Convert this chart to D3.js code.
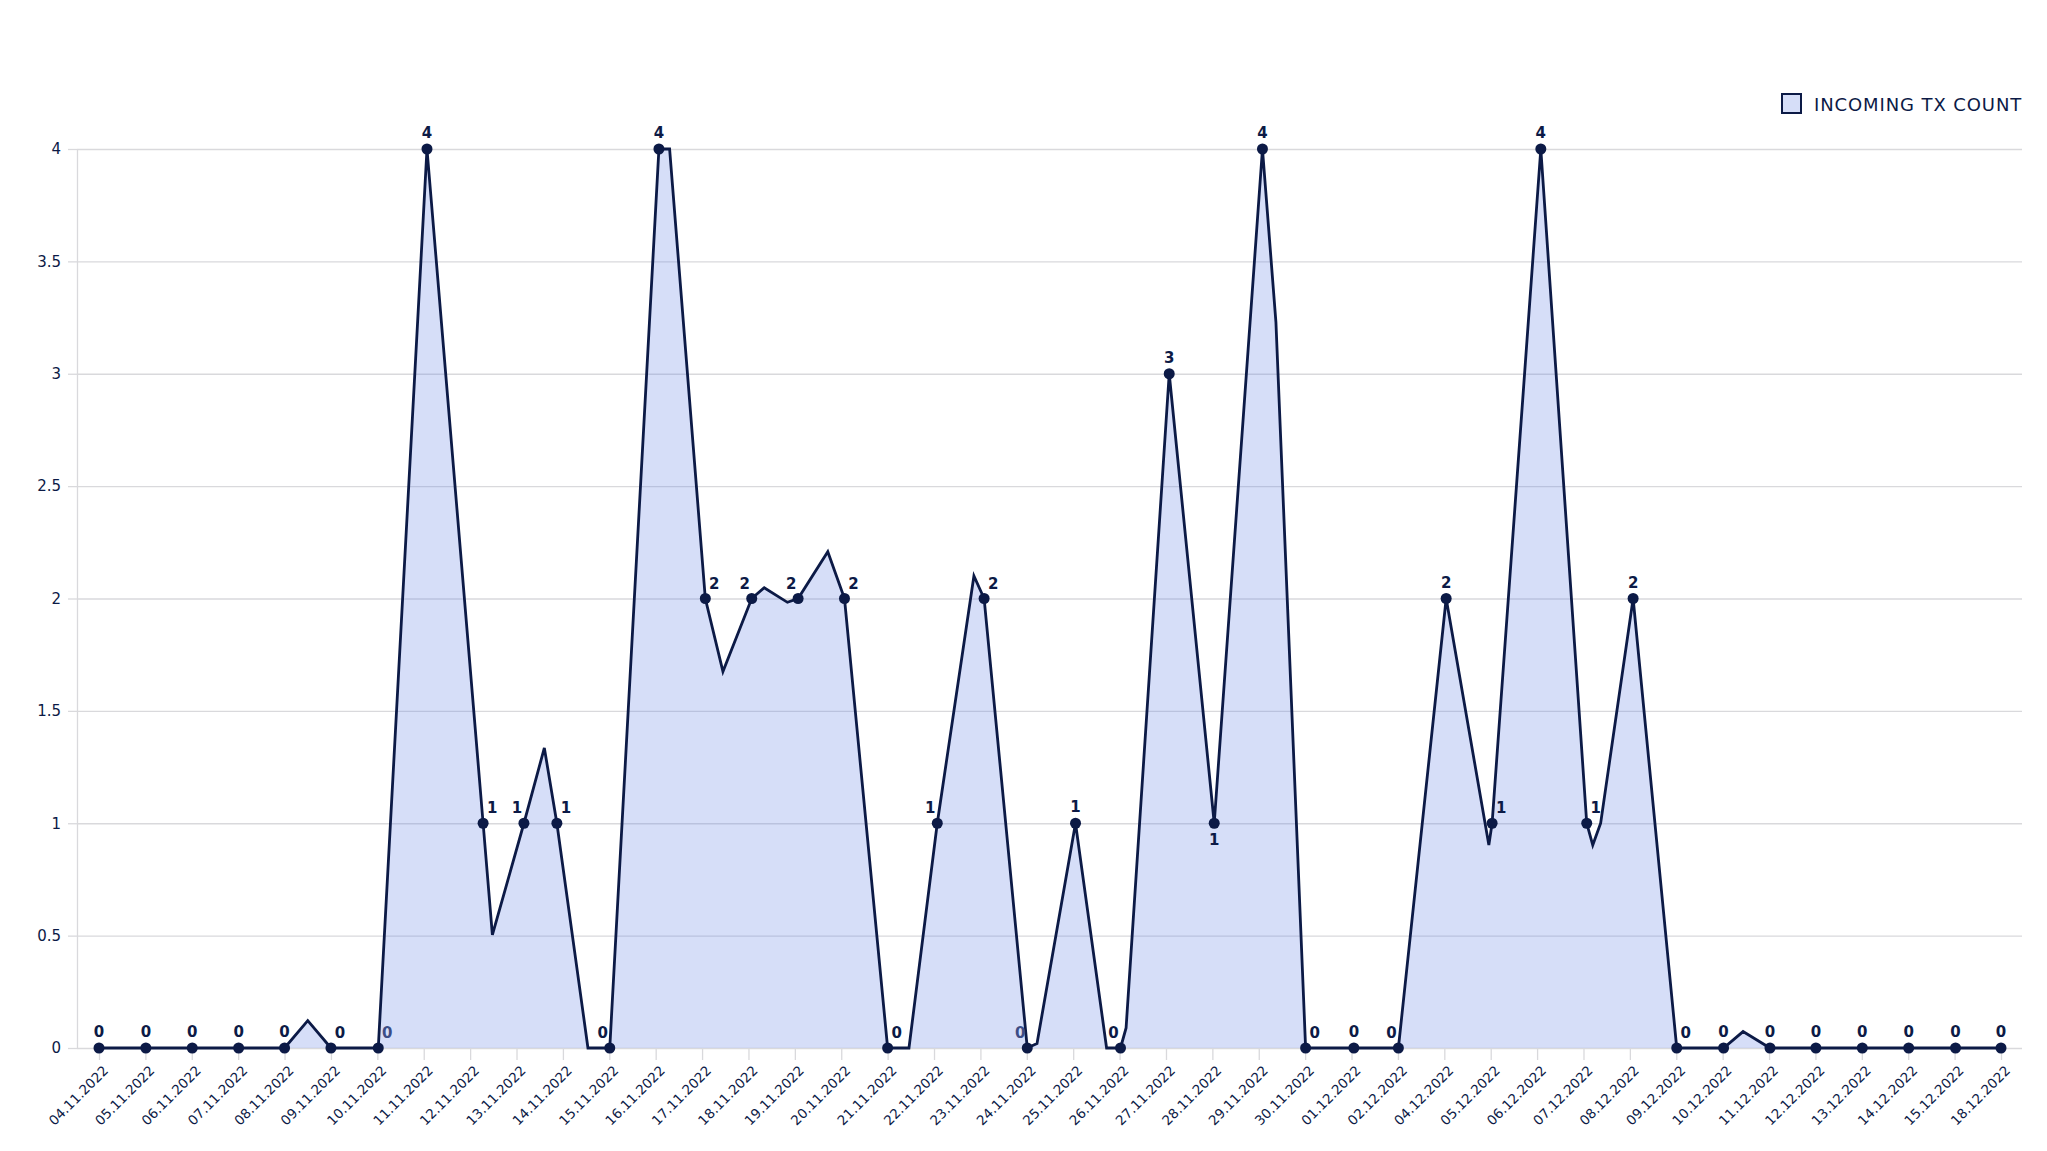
<!DOCTYPE html>
<html>
<head>
<meta charset="utf-8">
<script src="https://cdn.jsdelivr.net/npm/d3@7"></script>
<style>
  html, body { margin: 0; padding: 0; background: #ffffff; }
  svg { display: block; }
  text { font-family: "DejaVu Sans", sans-serif; }
</style>
</head>
<body>
<svg id="chart" width="2047" height="1151"></svg>
<script>
// ---- data ----
const dateLabels = [
  "04.11.2022","05.11.2022","06.11.2022","07.11.2022","08.11.2022","09.11.2022","10.11.2022",
  "11.11.2022","12.11.2022","13.11.2022","14.11.2022","15.11.2022","16.11.2022","17.11.2022",
  "18.11.2022","19.11.2022","20.11.2022","21.11.2022","22.11.2022","23.11.2022","24.11.2022",
  "25.11.2022","26.11.2022","27.11.2022","28.11.2022","29.11.2022","30.11.2022","01.12.2022",
  "02.12.2022","04.12.2022","05.12.2022","06.12.2022","07.12.2022","08.12.2022","09.12.2022",
  "10.12.2022","11.12.2022","12.12.2022","13.12.2022","14.12.2022","15.12.2022","18.12.2022"
];
// position of each daily point along the axis (in label slots) and its count
const pointPos = [0, 1.01, 2.01, 3.01, 4.0, 5.0, 6.02, 7.07, 8.28, 9.16, 9.87, 11.01, 12.07, 13.07,
  14.07, 15.07, 16.07, 17.0, 18.07, 19.08, 20.01, 21.05, 22.02, 23.07, 24.04, 25.08, 26.01, 27.05,
  28.01, 29.04, 30.03, 31.08, 32.07, 33.07, 34.01, 35.02, 36.02, 37.01, 38.01, 39.01, 40.02, 41.0];
const txCount = [0,0,0,0,0,0,0,4,1,1,1,0,4,2,2,2,2,0,1,2,0,1,0,3,1,4,0,0,0,2,1,4,1,2,0,0,0,0,0,0,0,0];
// label placement around each point: c = above, r = above right, l = above left, b = below
const labelPlace = ["c","c","c","c","c","r","r","c","r","l","r","l","c","r","l","l","r","r","l","r",
  "l","c","l","c","b","c","r","c","l","c","r","c","r","c","r","c","c","c","c","c","c","c"];
// labels that show faded in the reference (partly hidden by the fill)
const fadedLabels = [6, 20];
// vertices of the drawn line (slot position, value)
const linePos = [0, 1.01, 2.01, 3.01, 4.0, 4.5, 5.0, 6.02, 7.07, 8.28, 8.48, 9.16, 9.6, 9.87, 10.54,
  11.01, 12.07, 12.3, 13.07, 13.45, 14.07, 14.34, 14.84, 15.07, 15.71, 16.07, 17.0, 17.46, 18.07,
  18.86, 19.08, 20.01, 20.22, 21.05, 21.72, 22.02, 22.14, 23.07, 24.04, 25.08, 25.37, 26.01, 27.05,
  28.01, 29.04, 29.96, 30.03, 31.08, 32.07, 32.2, 32.37, 33.07, 34.01, 35.02, 35.44, 36.02, 37.01,
  38.01, 39.01, 40.02, 41.0];
const lineVal = [0, 0, 0, 0, 0, 0.122, 0, 0, 4, 1, 0.503, 1, 1.335, 1, 0,
  0, 4, 4, 2, 1.675, 2, 2.048, 1.983, 2, 2.208, 2, 0, 0, 1,
  2.1, 2, 0, 0.02, 1, 0, 0, 0.089, 3, 1, 4, 3.23, 0, 0,
  0, 2, 0.903, 1, 4, 1, 0.903, 1, 2, 0, 0, 0.073, 0, 0,
  0, 0, 0, 0];
const yTicks = [0, 0.5, 1, 1.5, 2, 2.5, 3, 3.5, 4];
const seriesName = "INCOMING TX COUNT";

// ---- drawing ----
const navy = "#0c1a46";
const gridColor = "#d9d9dc";
const svg = d3.select("#chart");

const x = d3.scaleLinear().domain([0, dateLabels.length - 1]).range([99, 2001]);
const y = d3.scaleLinear().domain([0, 4]).range([1048, 149]);
const plotLeft = 77, plotRight = 2022;

// grid lines
const grid = svg.append("g")
  .attr("transform", `translate(${plotLeft},0)`)
  .call(d3.axisLeft(y).tickValues(yTicks).tickSize(-(plotRight - plotLeft)).tickFormat(""));
grid.select(".domain").remove();
grid.selectAll("line").attr("stroke", gridColor).attr("stroke-width", 1.3);

// y axis
const yAxis = svg.append("g")
  .attr("transform", `translate(${plotLeft},0)`)
  .call(d3.axisLeft(y).tickValues(yTicks).tickSize(9).tickSizeOuter(0).tickPadding(7)
    .tickFormat(d3.format("~g")));
yAxis.select(".domain").attr("stroke", gridColor).attr("stroke-width", 1.3);
yAxis.selectAll("line").attr("stroke", gridColor).attr("stroke-width", 1.3);
yAxis.selectAll("text").attr("fill", navy).style("font-size", "15px")
  .style("font-family", "'DejaVu Sans', sans-serif");

// x axis
const xAxis = svg.append("g")
  .attr("transform", `translate(0,${y(0)})`)
  .call(d3.axisBottom(x).tickValues(d3.range(dateLabels.length)).tickSize(12).tickSizeOuter(0)
    .tickFormat(i => dateLabels[i]));
xAxis.select(".domain").remove();
xAxis.selectAll("line").attr("stroke", gridColor).attr("stroke-width", 1.3);
xAxis.selectAll("text")
  .attr("fill", navy)
  .style("font-size", "13.5px")
  .style("font-family", "'DejaVu Sans', sans-serif")
  .attr("text-anchor", "end")
  .attr("dominant-baseline", "central")
  .attr("y", 0).attr("dy", null)
  .attr("transform", "translate(6,20) rotate(-45)");

// area + line
const pts = linePos.map((p, i) => [p, lineVal[i]]);
svg.append("path")
  .datum(pts)
  .attr("fill", "rgb(108,137,230)")
  .attr("fill-opacity", 0.28)
  .attr("d", d3.area().x(d => x(d[0])).y0(y(0)).y1(d => y(d[1])));
svg.append("path")
  .datum(pts)
  .attr("fill", "none")
  .attr("stroke", navy)
  .attr("stroke-width", 2.8)
  .attr("stroke-linejoin", "miter")
  .attr("d", d3.line().x(d => x(d[0])).y(d => y(d[1])));

// points
svg.append("g").selectAll("circle")
  .data(txCount)
  .join("circle")
  .attr("cx", (d, i) => x(pointPos[i]))
  .attr("cy", d => y(d))
  .attr("r", 5.5)
  .attr("fill", navy);

// data labels
const placeDx = { c: 0, r: 9, l: -7, b: 0 };
const placeDy = { c: -16, r: -15, l: -15, b: 17 };
svg.append("g").selectAll("text")
  .data(txCount)
  .join("text")
  .attr("x", (d, i) => x(pointPos[i]) + placeDx[labelPlace[i]])
  .attr("y", (d, i) => y(d) + placeDy[labelPlace[i]])
  .attr("text-anchor", "middle")
  .attr("dominant-baseline", "central")
  .attr("fill", (d, i) => fadedLabels.includes(i) ? "#3c4d86" : navy)
  .style("font-size", "15px")
  .style("font-weight", "bold")
  .text(d => d);

// legend
const legend = svg.append("g").attr("transform", "translate(1782,94)");
legend.append("rect")
  .attr("width", 19).attr("height", 19)
  .attr("fill", "rgb(108,137,230)").attr("fill-opacity", 0.28)
  .attr("stroke", navy).attr("stroke-width", 2);
legend.append("text")
  .attr("x", 32).attr("y", 10)
  .attr("dominant-baseline", "central")
  .attr("fill", navy)
  .style("font-size", "18px")
  .style("letter-spacing", "0.9px")
  .text(seriesName);
</script>
</body>
</html>
